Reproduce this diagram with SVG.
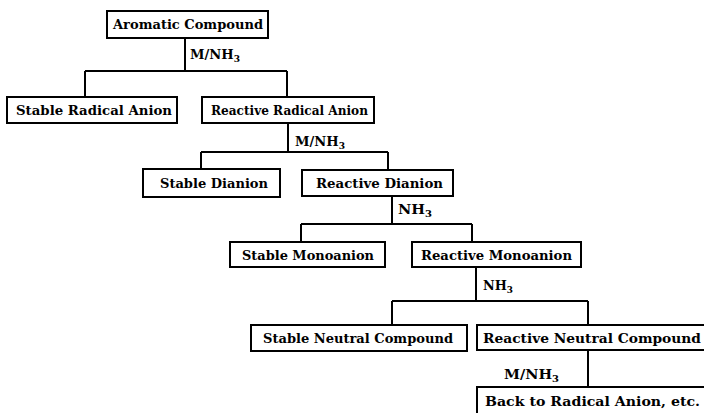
<svg xmlns="http://www.w3.org/2000/svg" width="704" height="413" viewBox="0 0 704 413">
<style>
.box{fill:#fff;stroke:#000;stroke-width:2}
.ln{fill:none;stroke:#000;stroke-width:2}
text{font-family:"DejaVu Serif","Liberation Serif",serif;font-weight:bold;font-size:13px;fill:#000}
.sub{font-size:9px}
</style>
<rect width="704" height="413" fill="#fff"/>
<g id="connectors">
<path class="ln" d="M185,38V71M85,71H287M85,71V97M287,71V97"/>
<path class="ln" d="M288,123V152M201,152H388M201,152V169M388,152V170"/>
<path class="ln" d="M392,196V224M301,224H472M301,224V242M472,224V242"/>
<path class="ln" d="M476,267V301M392,301H588M392,301V325M588,301V325"/>
<path class="ln" d="M588,350V387"/>
<text x="190" y="59" textLength="50" lengthAdjust="spacingAndGlyphs">M/NH<tspan class="sub" dy="3">3</tspan></text>
<text x="295" y="146" textLength="50" lengthAdjust="spacingAndGlyphs">M/NH<tspan class="sub" dy="3">3</tspan></text>
<text x="398" y="214" textLength="34" lengthAdjust="spacingAndGlyphs">NH<tspan class="sub" dy="3">3</tspan></text>
<text x="483" y="290" textLength="30" lengthAdjust="spacingAndGlyphs">NH<tspan class="sub" dy="3">3</tspan></text>
<text x="504" y="379" textLength="55" lengthAdjust="spacingAndGlyphs">M/NH<tspan class="sub" dy="3">3</tspan></text>
</g>
<g id="n-aromatic">
<rect class="box" x="107" y="11" width="161" height="27"/>
<text x="113" y="29" textLength="150" lengthAdjust="spacingAndGlyphs">Aromatic Compound</text>
</g>
<g id="n-stable-radical-anion">
<rect class="box" x="7" y="97" width="170" height="26"/>
<text x="16" y="115" textLength="156" lengthAdjust="spacingAndGlyphs">Stable Radical Anion</text>
</g>
<g id="n-reactive-radical-anion">
<rect class="box" x="202" y="97" width="172" height="26"/>
<text x="211" y="115" textLength="157" lengthAdjust="spacingAndGlyphs">Reactive Radical Anion</text>
</g>
<g id="n-stable-dianion">
<rect class="box" x="143" y="169" width="137" height="28"/>
<text x="160" y="188" textLength="108" lengthAdjust="spacingAndGlyphs">Stable Dianion</text>
</g>
<g id="n-reactive-dianion">
<rect class="box" x="302" y="170" width="151" height="26"/>
<text x="316" y="188" textLength="127" lengthAdjust="spacingAndGlyphs">Reactive Dianion</text>
</g>
<g id="n-stable-monoanion">
<rect class="box" x="230" y="242" width="155" height="25"/>
<text x="242" y="260" textLength="132" lengthAdjust="spacingAndGlyphs">Stable Monoanion</text>
</g>
<g id="n-reactive-monoanion">
<rect class="box" x="412" y="242" width="169" height="25"/>
<text x="421" y="260" textLength="151" lengthAdjust="spacingAndGlyphs">Reactive Monoanion</text>
</g>
<g id="n-stable-neutral">
<rect class="box" x="251" y="325" width="216" height="26"/>
<text x="263" y="343" textLength="190" lengthAdjust="spacingAndGlyphs">Stable Neutral Compound</text>
</g>
<g id="n-reactive-neutral">
<rect class="box" x="477" y="325" width="240" height="25"/>
<text x="483" y="343" textLength="218" lengthAdjust="spacingAndGlyphs">Reactive Neutral Compound</text>
</g>
<g id="n-back">
<rect class="box" x="477" y="387" width="240" height="40"/>
<text x="485" y="406" textLength="215" lengthAdjust="spacingAndGlyphs">Back to Radical Anion, etc.</text>
</g>
</svg>
